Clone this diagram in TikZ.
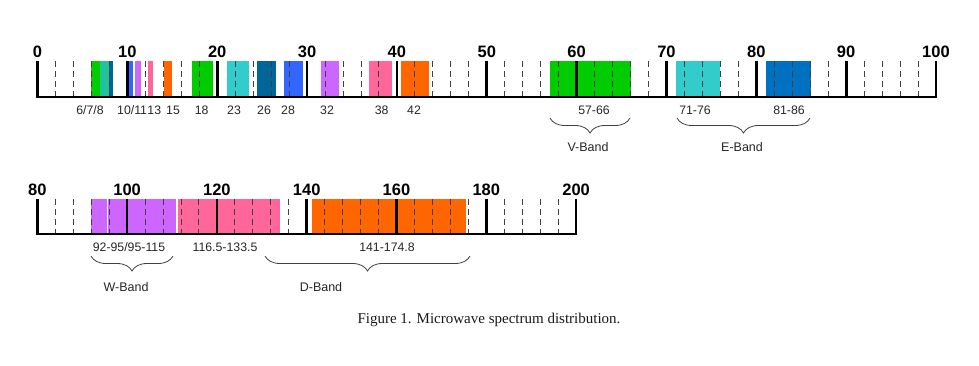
\documentclass[tikz,border=0pt]{standalone}
\usepackage{fontspec}
\setmainfont{Liberation Sans}
\newfontfamily\capfont{Liberation Serif}
\usetikzlibrary{decorations.pathreplacing}
\definecolor{grnA}{HTML}{00CC00}
\definecolor{tealG}{HTML}{20C39B}
\definecolor{dteal}{HTML}{006699}
\definecolor{blueA}{HTML}{3366FF}
\definecolor{purp}{HTML}{CC66FF}
\definecolor{pinkA}{HTML}{FF6699}
\definecolor{orng}{HTML}{FF6600}
\definecolor{cyanA}{HTML}{33CCCC}
\definecolor{blueB}{HTML}{0070C0}
\def\TX#1{37.5+8.985*(#1)}
\def\BX#1{37.3+4.49*((#1)-80)}
\begin{document}
\begin{tikzpicture}[x=1pt,y=-1pt,
  numlbl/.style={font=\fontsize{16.5}{18}\selectfont\bfseries, inner sep=0pt, anchor=base},
  freqlbl/.style={font=\fontsize{12.3}{14}\selectfont, inner sep=0pt, anchor=base, text=black!85},
  bandlbl/.style={font=\fontsize{12.5}{14}\selectfont, inner sep=0pt, anchor=base, text=black!85},
  major/.style={line width=2.7pt},
  minor/.style={line width=0.9pt, black!75, dash pattern=on 6pt off 4pt},
  axisline/.style={line width=2.7pt},
  bracestyle/.style={decorate, decoration={brace, mirror, amplitude=15pt, aspect=0.5}, line width=0.8pt, black!75}]
\useasboundingbox (0,0) rectangle (979,365);
% ---------- top axis: 0..100 ----------
\foreach \a/\b/\c in {6/7/grnA, 7/7.95/tealG, 7.95/8.35/dteal, 10.1/10.6/blueA, 10.8/11.5/purp, 12.3/12.85/pinkA, 14.1/15/orng, 17.2/19.5/grnA, 21.1/23.5/cyanA, 24.4/26.5/dteal, 27.45/29.5/blueA, 31.6/33.5/purp, 36.9/39.5/pinkA, 40.5/43.6/orng, 57.07/66/grnA, 71.07/76/cyanA, 81.1/86.05/blueB}
  \fill[\c] ({\TX{\a}},61) rectangle ({\TX{\b}},96);
\foreach \d in {0,10,...,90}
  \foreach \m in {2,4,6,8}
    \draw[minor] ({\TX{\d+\m}},61) -- ({\TX{\d+\m}},97);
\foreach \d in {0,10,...,100} {
  \draw[major] ({\TX{\d}},61) -- ({\TX{\d}},97);
  \node[numlbl] (t\d) at ({\TX{\d}},57) {\d};
}
\coordinate (ta) at ({\TX{0}-1.35},97);
\coordinate (tb) at ({\TX{100}+1.35},97);
\draw[axisline] (ta) -- (tb);
% frequency labels top
\node[freqlbl] (f678) at (90,114.5) {6/7/8};
\node[freqlbl, anchor=base west] (f1011) at (117,114.5) {10/11};
\node[freqlbl, anchor=base west] (f13) at (f1011.base east) {13};
\node[freqlbl] (f15) at (173,114.5) {15};
\node[freqlbl] (f18) at (201.7,114.5) {18};
\node[freqlbl] (f23) at (234,114.5) {23};
\node[freqlbl] (f26) at (264,114.5) {26};
\node[freqlbl] (f28) at (288,114.5) {28};
\node[freqlbl] (f32) at (327,114.5) {32};
\node[freqlbl] (f38) at (381.7,114.5) {38};
\node[freqlbl] (f42) at (414,114.5) {42};
\node[freqlbl] (f5766) at (594,114.5) {57-66};
\node[freqlbl] (f7176) at (695,114.5) {71-76};
\node[freqlbl] (f8186) at (789,114.5) {81-86};
% braces top
\coordinate (v1) at (550,118);
\coordinate (v2) at (630,118);
\draw[bracestyle] (v1) -- (v2);
\node[bandlbl] (vband) at (588,151.5) {V-Band};
\coordinate (e1) at (677,118);
\coordinate (e2) at (810,118);
\draw[bracestyle] (e1) -- (e2);
\node[bandlbl] (eband) at (742,151.5) {E-Band};
% ---------- bottom axis: 80..200 ----------
\foreach \a/\b/\c in {92/95.5/purp, 95.8/111/purp, 111.4/134/pinkA, 141.2/175.5/orng}
  \fill[\c] ({\BX{\a}},198.5) rectangle ({\BX{\b}},232.5);
\foreach \d in {80,100,...,180}
  \foreach \m in {4,8,12,16}
    \draw[minor] ({\BX{\d+\m}},198.5) -- ({\BX{\d+\m}},234);
\foreach \d in {80,100,...,200} {
  \draw[major] ({\BX{\d}},198.5) -- ({\BX{\d}},234);
  \node[numlbl] (b\d) at ({\BX{\d}},195) {\d};
}
\coordinate (ba) at ({\BX{80}-1.35},234);
\coordinate (bb) at ({\BX{200}+1.35},234);
\draw[axisline] (ba) -- (bb);
\node[freqlbl] (fw) at (129,251.7) {92-95/95-115};
\node[freqlbl] (fp) at (225,251.7) {116.5-133.5};
\node[freqlbl] (fd) at (387,251.7) {141-174.8};
\coordinate (w1) at (91,256);
\coordinate (w2) at (173,256);
\draw[bracestyle] (w1) -- (w2);
\node[bandlbl] (wband) at (126,291.7) {W-Band};
\coordinate (d1) at (265,256);
\coordinate (d2) at (470,256);
\draw[bracestyle] (d1) -- (d2);
\node[bandlbl] (dband) at (321,291.7) {D-Band};
% caption
\node[font=\capfont\fontsize{15}{17}\selectfont, inner sep=0pt, anchor=base, text=black!90] (cap) at (489,323.5) {Figure 1. Microwave spectrum distribution.};
\end{tikzpicture}
\end{document}
